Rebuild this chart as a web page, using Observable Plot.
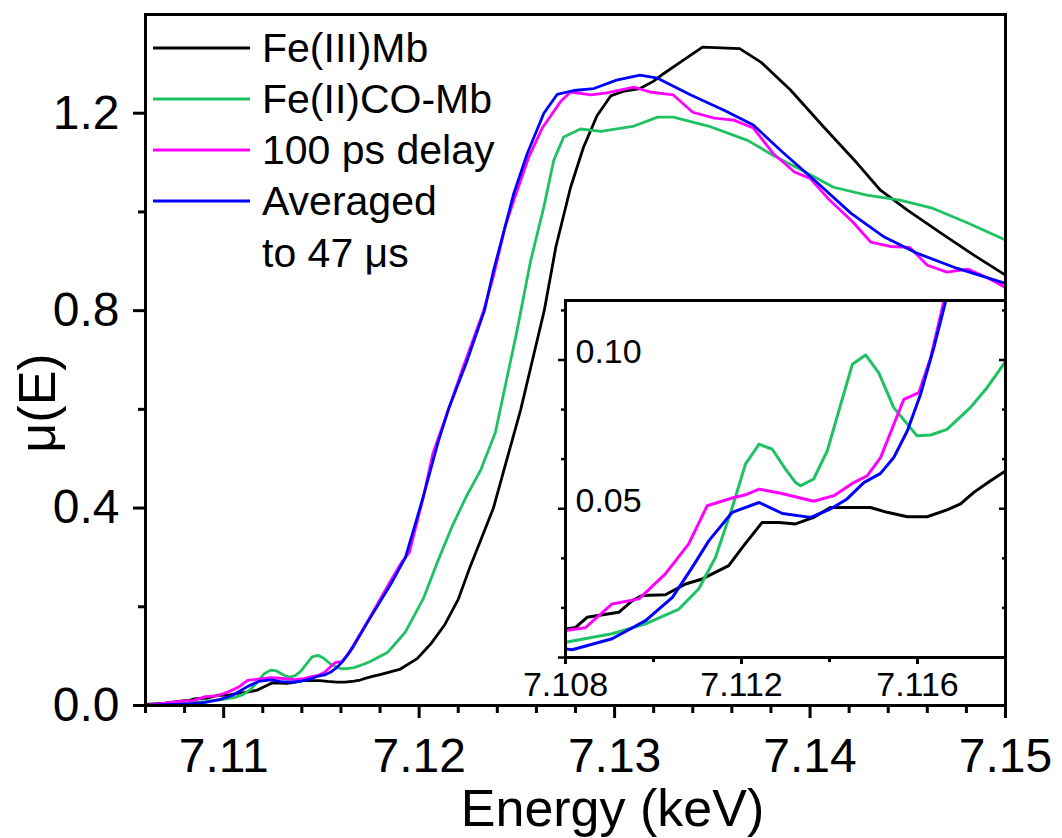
<!DOCTYPE html>
<html>
<head>
<meta charset="utf-8">
<script src="https://cdn.jsdelivr.net/npm/d3@7"></script>
<script src="https://cdn.jsdelivr.net/npm/@observablehq/plot@0.6"></script>
<style>
  html, body { margin: 0; padding: 0; background: #fff; }
  #chart { position: relative; width: 1062px; height: 838px; font-family: "Liberation Sans", Arial, sans-serif; }
  #chart svg { position: absolute; overflow: visible; }
</style>
</head>
<body>
<div id="chart"></div>
<script>
// ---------- data: [energy (keV), mu(E)] ----------
const feIIIMb = [
  [7.106,0.002],[7.107,0.005],[7.108,0.0096],[7.10823,0.0101],[7.10849,0.0135],[7.10921,0.0152],
  [7.10952,0.0191],[7.10974,0.0208],[7.11027,0.0211],[7.11073,0.0247],[7.11111,0.0264],[7.11171,0.0309],
  [7.11202,0.0370],[7.11247,0.0454],[7.11285,0.0454],[7.11323,0.0449],[7.11364,0.0471],[7.11402,0.0504],
  [7.11493,0.0504],[7.11531,0.0488],[7.11577,0.0473],[7.11622,0.0473],[7.11667,0.0496],[7.11698,0.0516],
  [7.11728,0.0555],[7.11766,0.0594],[7.118,0.0627],[7.1190,0.073],[7.1199,0.095],[7.1206,0.125],
  [7.1213,0.163],[7.1220,0.215],[7.1226,0.28],[7.1232,0.34],[7.1238,0.40],[7.1245,0.50],[7.1252,0.60],
  [7.1258,0.70],[7.1264,0.80],[7.1270,0.93],[7.12775,1.05],[7.1284,1.13],[7.1291,1.195],[7.1298,1.235],
  [7.1305,1.245],[7.1313,1.25],[7.1320,1.265],[7.1325,1.28],[7.1335,1.307],[7.1345,1.334],[7.1364,1.331],
  [7.1375,1.303],[7.139,1.247],[7.1407,1.172],[7.1424,1.099],[7.1436,1.044],[7.145,1.003],[7.1467,0.957],
  [7.1484,0.912],[7.15,0.872]
];
const feIICOMb = [
  [7.106,0.0],[7.107,0.003],[7.108,0.0051],[7.10906,0.0080],[7.10982,0.0113],[7.11058,0.0163],
  [7.11103,0.0231],[7.11141,0.0337],[7.11179,0.0504],[7.11209,0.0650],[7.1124,0.0717],[7.1127,0.0700],
  [7.113,0.0633],[7.11323,0.0588],[7.11334,0.0577],[7.11364,0.0600],[7.11395,0.0695],[7.11452,0.0986],
  [7.11482,0.1017],[7.11512,0.0957],[7.11546,0.0840],[7.11599,0.0745],[7.1163,0.0748],[7.11667,0.0767],
  [7.1172,0.0840],[7.11758,0.0907],[7.11796,0.0986],[7.1184,0.108],[7.1193,0.149],[7.12022,0.217],
  [7.12095,0.292],[7.12169,0.363],[7.12242,0.424],[7.12316,0.478],[7.1239,0.553],[7.12444,0.654],
  [7.12499,0.756],[7.1257,0.90],[7.12638,1.01],[7.12689,1.105],[7.1274,1.152],[7.12826,1.168],
  [7.1293,1.163],[7.131,1.174],[7.1322,1.192],[7.133,1.192],[7.1348,1.174],[7.1368,1.145],[7.1381,1.115],
  [7.1399,1.078],[7.1412,1.050],[7.1429,1.034],[7.1446,1.024],[7.1463,1.007],[7.1481,0.977],[7.15,0.943]
];
const delay100ps = [
  [7.106,0.0],[7.107,0.005],[7.108,0.0091],[7.10845,0.0100],[7.10906,0.0180],[7.10967,0.0197],
  [7.11027,0.0281],[7.1108,0.0382],[7.11122,0.0510],[7.11179,0.0536],[7.11209,0.0547],[7.1124,0.0566],
  [7.11289,0.0552],[7.11364,0.0525],[7.1141,0.0544],[7.11455,0.0588],[7.11486,0.0611],[7.11516,0.0672],
  [7.11569,0.0868],[7.11603,0.0890],[7.1163,0.1008],[7.1166,0.1198],[7.1175,0.18],[7.1185,0.25],
  [7.1191,0.29],[7.1195,0.31],[7.1202,0.42],[7.1207,0.51],[7.1215,0.60],[7.1222,0.68],[7.1233,0.80],
  [7.1238,0.87],[7.1244,0.97],[7.1249,1.03],[7.1256,1.11],[7.1263,1.17],[7.12723,1.223],[7.12774,1.243],
  [7.1288,1.237],[7.1296,1.241],[7.131,1.253],[7.1318,1.243],[7.133,1.237],[7.134,1.202],[7.1351,1.19],
  [7.1361,1.186],[7.1371,1.170],[7.1381,1.119],[7.1392,1.081],[7.14,1.068],[7.141,1.024],[7.1422,0.979],
  [7.1431,0.939],[7.1441,0.930],[7.1451,0.928],[7.146,0.892],[7.147,0.878],[7.1481,0.884],[7.1491,0.866],
  [7.15,0.847]
];
const averaged47us = [
  [7.106,0.0],[7.107,0.0015],[7.108,0.0029],[7.10815,0.0026],[7.10906,0.0063],[7.10982,0.0124],
  [7.11043,0.0202],[7.11088,0.0303],[7.11126,0.0393],[7.11179,0.0488],[7.1124,0.0521],[7.11293,0.0484],
  [7.11357,0.0471],[7.11402,0.0499],[7.1144,0.0533],[7.11478,0.0588],[7.11516,0.0619],[7.11546,0.0672],
  [7.11577,0.0762],[7.11607,0.0885],[7.11637,0.1041],[7.11664,0.1198],[7.11747,0.176],[7.11857,0.247],
  [7.1193,0.30],[7.12022,0.424],[7.12096,0.532],[7.1215,0.60],[7.12242,0.695],[7.12334,0.80],
  [7.1238,0.88],[7.12484,1.037],[7.12553,1.118],[7.12638,1.2],[7.12706,1.238],[7.12791,1.246],
  [7.12894,1.25],[7.1301,1.267],[7.1313,1.277],[7.1322,1.271],[7.1339,1.237],[7.1356,1.206],
  [7.1371,1.176],[7.1386,1.121],[7.1404,1.058],[7.1421,0.997],[7.1438,0.949],[7.1455,0.916],
  [7.1475,0.886],[7.15,0.855]
];

const seriesNames = ["Fe(III)Mb", "Fe(II)CO-Mb", "100 ps delay", "Averaged\nto 47 \u03bcs"];
const seriesColors = ["#000000", "#1ec262", "#ff00ff", "#0000ff"];
const seriesData = [feIIIMb, feIICOMb, delay100ps, averaged47us];

const mainXMajor = [7.11, 7.12, 7.13, 7.14, 7.15];
const mainXMinor = [7.106, 7.108, 7.112, 7.114, 7.116, 7.118, 7.122, 7.124, 7.126, 7.128,
                    7.132, 7.134, 7.136, 7.138, 7.142, 7.144, 7.146, 7.148];
const mainYMajor = [0, 0.4, 0.8, 1.2];
const mainYMinor = [0.2, 0.6, 1.0];
const insetXMajor = [7.108, 7.112, 7.116];
const insetXMinor = [7.110, 7.114, 7.118];
const insetYMajor = [0, 0.05, 0.10];
const insetYMinor = [1/60, 2/60, 4/60, 5/60, 7/60];

const FONT = '"Liberation Sans", Arial, sans-serif';

function lineMarks(width, clip) {
  return seriesData.map((d, i) => Plot.line(d, {x: d => d[0], y: d => d[1], stroke: seriesColors[i], strokeWidth: width, clip}));
}

// ---------- main plot ----------
const main = Plot.plot({
  width: 1062, height: 838,
  marginLeft: 145, marginRight: 57, marginTop: 14, marginBottom: 133,
  x: {domain: [7.106, 7.15]},
  y: {domain: [0, 1.4]},
  style: {fontFamily: FONT, fontSize: "48px", color: "black", background: "transparent", overflow: "visible"},
  marks: [
    ...lineMarks(2.8, true),
    Plot.frame({stroke: "black", strokeWidth: 3}),
    Plot.axisX({ticks: mainXMinor, tickSize: 8, strokeWidth: 3, tickFormat: () => "", label: null}),
    Plot.axisX({ticks: mainXMajor, tickSize: 13, strokeWidth: 3, tickPadding: 19, tickFormat: d3.format(".2f"), label: null}),
    Plot.axisY({ticks: mainYMinor, tickSize: 7, strokeWidth: 3, tickFormat: () => "", label: null}),
    Plot.axisY({ticks: mainYMajor, tickSize: 12, strokeWidth: 3, tickPadding: 14, tickFormat: d3.format(".1f"), label: null}),
    Plot.text(["Energy (keV)"], {frameAnchor: "bottom", text: d => d, textAnchor: "middle", lineAnchor: "middle", dx: 37, dy: 104, fontSize: 52, fill: "black"}),
    Plot.text(["\u03bc(E)"], {frameAnchor: "left", text: d => d, rotate: -90, textAnchor: "middle", lineAnchor: "middle", dx: -107, dy: 43, fontSize: 52, fill: "black"})
  ]
});
main.style.left = "0px"; main.style.top = "0px";

// ---------- inset ----------
const inset = Plot.plot({
  width: 500, height: 407,
  marginLeft: 50, marginRight: 10, marginTop: 5, marginBottom: 45,
  x: {domain: [7.108, 7.118]},
  y: {domain: [0, 0.12]},
  style: {fontFamily: FONT, fontSize: "34px", color: "black", background: "transparent", overflow: "visible"},
  marks: [
    Plot.frame({fill: "white"}),
    ...lineMarks(3, true),
    Plot.frame({stroke: "black", strokeWidth: 3}),
    Plot.axisX({ticks: insetXMinor, tickSize: 5, strokeWidth: 3, tickFormat: () => "", label: null}),
    Plot.axisX({ticks: insetXMajor, tickSize: 7, strokeWidth: 3, tickPadding: 7, tickFormat: d3.format(".3f"), label: null}),
    Plot.axisY({ticks: insetYMinor, tickSize: 4, strokeWidth: 2.5, tickFormat: () => "", label: null}),
    Plot.axisY({ticks: insetYMajor, tickSize: 7, strokeWidth: 2.5, tickFormat: () => "", label: null}),
    Plot.axisY({anchor: "right", ticks: insetYMinor, tickSize: 4, insetRight: 4, strokeWidth: 2.5, tickFormat: () => "", label: null}),
    Plot.axisY({anchor: "right", ticks: insetYMajor, tickSize: 7, insetRight: 7, strokeWidth: 2.5, tickFormat: () => "", label: null}),
    Plot.text([0.05, 0.10], {y: d => d, frameAnchor: "left", text: d3.format(".2f"), textAnchor: "start", lineAnchor: "middle", dx: 10, dy: -8, fill: "black"})
  ]
});
inset.style.left = "515px"; inset.style.top = "295px";

// ---------- legend (inside the plot, top-left) ----------
const legend = d3.create("svg")
  .attr("width", 560).attr("height", 300)
  .style("left", "0px").style("top", "0px")
  .style("font-family", FONT).style("font-size", "41px");
seriesNames.forEach((name, i) => {
  const y = 48 + i * 51;
  legend.append("line").attr("x1", 153).attr("x2", 250).attr("y1", y).attr("y2", y)
    .attr("stroke", seriesColors[i]).attr("stroke-width", 3);
  name.split("\n").forEach((t, j) => {
    legend.append("text").attr("x", 262).attr("y", y + 14 + j * 52).attr("fill", "black").text(t);
  });
});

const chart = document.getElementById("chart");
chart.append(main, inset, legend.node());
</script>
</body>
</html>
